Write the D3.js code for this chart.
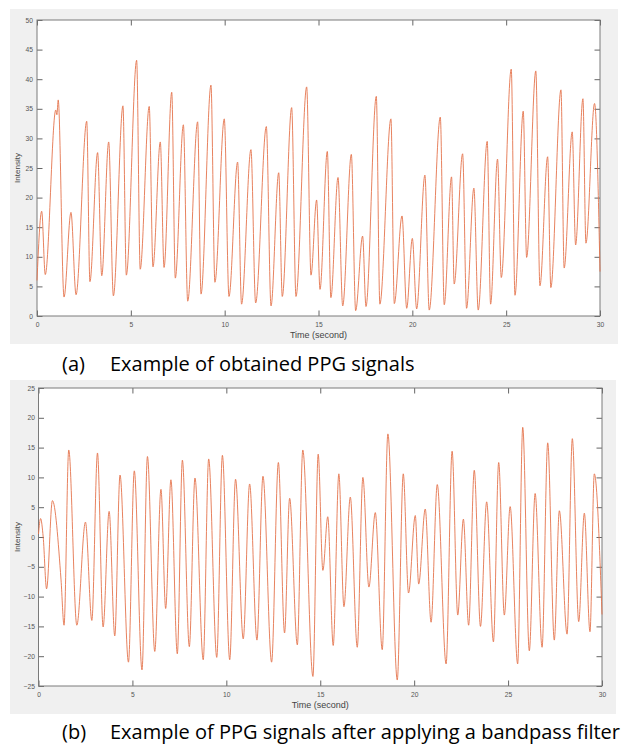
<!DOCTYPE html>
<html lang="en">
<head>
<meta charset="UTF-8">
<title>PPG signals</title>
<script src="https://cdn.jsdelivr.net/npm/d3@7"></script>
<style>
  body { margin: 0; background: #fff; }
  svg text { font-family: "Liberation Sans", Arial, sans-serif; }
  .caption text { font-family: "Open Sans", sans-serif; fill: #000; }
</style>
</head>
<body>
<div id="chart"></div>
<script>
// (a) raw PPG: peaks and troughs
const rawTime = [0, 0.25, 0.44, 1.0, 1.06, 1.13, 1.44, 1.81, 2.08, 2.65, 2.82, 3.23, 3.45, 3.82, 4.07,
  4.58, 4.76, 5.31, 5.5, 5.98, 6.18, 6.57, 6.77, 7.18, 7.37, 7.8, 8.03, 8.56, 8.74, 9.27, 9.48,
  9.98, 10.23, 10.69, 10.9, 11.4, 11.65, 12.22, 12.47, 12.88, 13.07, 13.57, 13.8, 14.37, 14.6,
  14.9, 15.08, 15.47, 15.66, 16.04, 16.29, 16.75, 16.98, 17.35, 17.53, 18.08, 18.27, 18.86, 19.04,
  19.45, 19.7, 20.0, 20.23, 20.67, 20.9, 21.49, 21.7, 22.09, 22.23, 22.68, 22.89, 23.28, 23.51,
  23.99, 24.17, 24.54, 24.74, 25.27, 25.47, 25.91, 26.09, 26.58, 26.8, 27.21, 27.38, 27.92, 28.09,
  28.52, 28.7, 29.09, 29.25, 29.71, 30.0];
const rawIntensity = [6.0, 17.7, 7.0, 34.8, 34.0, 36.5, 3.2, 17.5, 3.6, 32.9, 5.8, 27.6, 6.8, 29.4, 3.4,
  35.5, 6.9, 43.2, 7.9, 35.4, 8.3, 29.4, 8.2, 37.8, 6.4, 32.3, 2.5, 32.8, 3.7, 39.0, 5.7,
  33.3, 3.3, 26.0, 2.0, 28.1, 2.2, 32.0, 1.7, 24.2, 3.3, 35.2, 3.3, 38.7, 6.9,
  19.6, 4.5, 27.8, 3.1, 23.4, 1.7, 27.3, 0.9, 13.5, 1.6, 37.1, 2.0, 33.3, 2.1,
  16.9, 1.3, 13.1, 1.2, 23.8, 1.0, 33.6, 1.9, 23.5, 5.4, 27.4, 1.3, 21.6, 1.0,
  29.5, 2.0, 26.5, 6.5, 41.7, 3.5, 34.6, 9.9, 41.4, 5.1, 26.9, 4.8, 38.2, 8.1,
  31.1, 12.0, 36.7, 12.3, 35.9, 7.5];

// (b) band-pass filtered PPG
const bpTime = [0, 0.11, 0.25, 0.43, 0.74, 1.2, 1.36, 1.61, 2.04, 2.5, 2.84, 3.14, 3.44, 3.76, 4.06,
  4.34, 4.79, 5.1, 5.51, 5.8, 6.19, 6.52, 6.77, 7.05, 7.39, 7.66, 8.03, 8.33, 8.77, 9.06, 9.49,
  9.79, 10.18, 10.49, 10.9, 11.24, 11.63, 11.95, 12.41, 12.77, 13.1, 13.37, 13.78, 14.07, 14.61,
  14.89, 15.14, 15.4, 15.69, 15.99, 16.26, 16.6, 16.97, 17.27, 17.59, 17.93, 18.3, 18.6, 19.1,
  19.42, 19.7, 20.06, 20.24, 20.59, 20.9, 21.23, 21.7, 22.02, 22.32, 22.62, 22.9, 23.2, 23.53,
  23.86, 24.22, 24.5, 24.8, 25.11, 25.51, 25.78, 26.13, 26.44, 26.81, 27.11, 27.46, 27.73, 28.14,
  28.42, 28.76, 29.06, 29.36, 29.59, 30.0];
const bpIntensity = [0.5, 3.1, 0.0, -8.7, 6.1, -7.2, -14.8, 14.6, -14.8, 2.5, -14.0, 14.1, -15.1, 4.3, -16.6,
  10.4, -21.0, 11.1, -22.3, 13.5, -19.2, 8.0, -12.0, 9.6, -19.6, 12.9, -18.4, 9.9, -20.6, 13.1, -20.2,
  13.7, -20.6, 9.7, -17.1, 8.9, -17.3, 10.2, -21.0, 12.5, -16.1, 6.5, -18.1, 14.6, -23.4,
  13.9, -5.6, 3.4, -18.2, 10.6, -11.7, 6.7, -18.5, 10.0, -8.4, 4.1, -18.9, 17.3, -24.0,
  10.6, -9.4, 3.6, -7.9, 4.7, -14.3, 8.8, -21.3, 14.4, -13.1, 3.0, -14.8, 11.2, -15.0,
  5.9, -17.6, 12.5, -13.1, 5.1, -21.3, 18.4, -19.1, 7.3, -18.5, 15.8, -17.3, 4.4, -16.3,
  16.5, -14.2, 4.0, -15.9, 10.6, -13.0];

const timeTicks = [0, 5, 10, 15, 20, 25, 30];
const rawTicks = [0, 5, 10, 15, 20, 25, 30, 35, 40, 45, 50];
const bpTicks = [-25, -20, -15, -10, -5, 0, 5, 10, 15, 20, 25];

const svg = d3.select("#chart").append("svg")
  .attr("width", 627)
  .attr("height", 745);

function drawPanel(cfg) {
  const g = svg.append("g");

  g.append("rect")
    .attr("x", cfg.bg[0]).attr("y", cfg.bg[1])
    .attr("width", cfg.bg[2]).attr("height", cfg.bg[3])
    .attr("fill", "#f0f0f0");

  const x = d3.scaleLinear().domain([0, 30]).range([cfg.left, cfg.right]);
  const y = d3.scaleLinear().domain(cfg.yDomain).range([cfg.bottom, cfg.top]);

  g.append("rect")
    .attr("x", cfg.left).attr("y", cfg.top)
    .attr("width", cfg.right - cfg.left).attr("height", cfg.bottom - cfg.top)
    .attr("fill", "#fff");

  const tl = 5.5;
  const xb = g.append("g").attr("transform", `translate(0,${cfg.bottom})`)
    .call(d3.axisBottom(x).tickValues(timeTicks).tickSizeInner(-tl).tickSizeOuter(0).tickPadding(cfg.xPad));
  const xt = g.append("g").attr("transform", `translate(0,${cfg.top})`)
    .call(d3.axisTop(x).tickValues(timeTicks).tickSizeInner(-tl).tickSizeOuter(0).tickFormat(""));
  const yl = g.append("g").attr("transform", `translate(${cfg.left},0)`)
    .call(d3.axisLeft(y).tickValues(cfg.yTicks).tickSizeInner(-tl).tickSizeOuter(0).tickPadding(cfg.yPad));
  const yr = g.append("g").attr("transform", `translate(${cfg.right},0)`)
    .call(d3.axisRight(y).tickValues(cfg.yTicks).tickSizeInner(-tl).tickSizeOuter(0).tickFormat(""));

  [xb, xt, yl, yr].forEach(a => {
    a.select(".domain").remove();
    a.selectAll(".tick line").attr("stroke", "#666");
    a.selectAll("text").attr("fill", "#555").style("font-size", "6.7px");
  });

  g.append("rect")
    .attr("x", cfg.left).attr("y", cfg.top)
    .attr("width", cfg.right - cfg.left).attr("height", cfg.bottom - cfg.top)
    .attr("fill", "none")
    .attr("stroke", "#7a7a7a");

  const line = d3.line()
    .x((d, i) => x(cfg.t[i]))
    .y(d => y(d))
    .curve(d3.curveMonotoneX);

  g.append("path")
    .datum(cfg.v)
    .attr("fill", "none")
    .attr("stroke", "#e4744d")
    .attr("stroke-width", 0.9)
    .attr("d", line);

  g.append("text")
    .attr("transform", `translate(${cfg.yLabelX},${(cfg.top + cfg.bottom) / 2}) rotate(-90)`)
    .attr("text-anchor", "middle")
    .style("font-size", "8px")
    .attr("fill", "#444")
    .text("Intensity");

  g.append("text")
    .attr("x", (cfg.left + cfg.right) / 2)
    .attr("y", cfg.xLabelY)
    .attr("text-anchor", "middle")
    .style("font-size", "9px")
    .attr("fill", "#444")
    .text("Time (second)");

  const cap = svg.append("g").attr("class", "caption");
  cap.append("text").attr("x", 62).attr("y", cfg.capY).style("font-size", "20px").text(cfg.capLetter);
  cap.append("text").attr("x", 110).attr("y", cfg.capY).style("font-size", "20px").text(cfg.capText);
}

drawPanel({
  bg: [10, 9, 608, 335], left: 37, right: 600, top: 20, bottom: 316,
  yDomain: [0, 50], yTicks: rawTicks, xPad: 6, yPad: 4,
  t: rawTime, v: rawIntensity,
  yLabelX: 20, xLabelY: 338,
  capY: 371, capLetter: "(a)", capText: "Example of obtained PPG signals"
});

drawPanel({
  bg: [10, 380, 606, 334], left: 38.5, right: 602, top: 388, bottom: 686,
  yDomain: [-25, 25], yTicks: bpTicks, xPad: 6, yPad: 3.5,
  t: bpTime, v: bpIntensity,
  yLabelX: 20, xLabelY: 708,
  capY: 739, capLetter: "(b)", capText: "Example of PPG signals after applying a bandpass filter"
});
</script>
</body>
</html>
